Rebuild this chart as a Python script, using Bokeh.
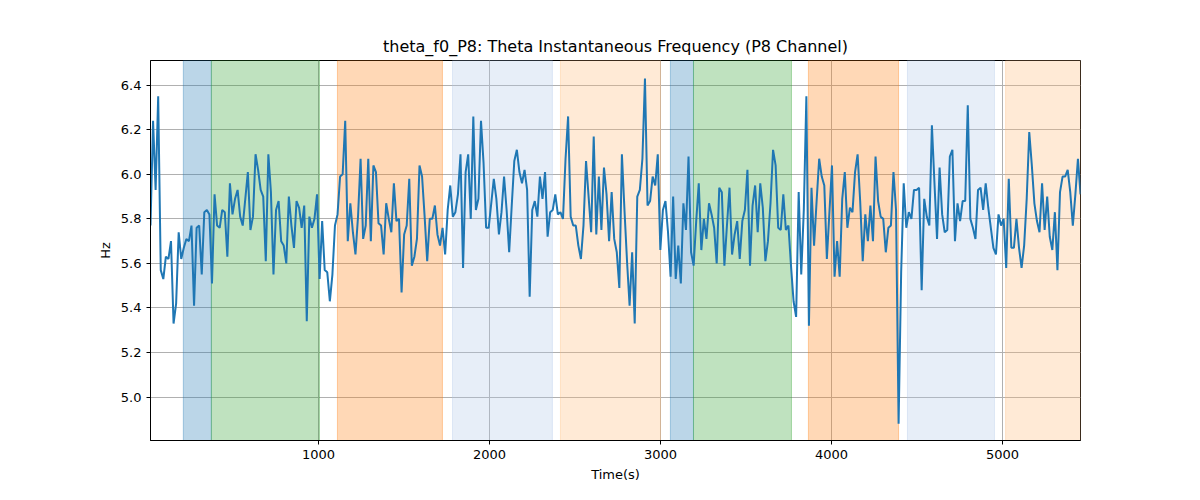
import numpy as np
from bokeh.plotting import figure
from bokeh.models import BoxAnnotation, FixedTicker, NumeralTickFormatter
from bokeh.embed import file_html
from bokeh.resources import INLINE

seg1 = [5.77,6.24,5.93,6.35,5.57,5.53,5.63,5.62,5.70,5.33,5.42,5.74,5.62,5.67,5.71,5.70,5.77,5.41,5.76,5.77,
        5.55,5.83,5.84,5.82,5.51,5.91,5.77,5.76,5.84,5.83,5.63,5.96,5.82,5.89,5.93,5.81,5.77,5.89,6.01,5.75,
        5.81,6.09,6.02,5.93,5.90,5.61,6.09,5.92,5.55,5.84,5.88,5.70,5.68,5.60,5.90,5.77,5.67,5.88,5.85,5.76,
        5.86,5.34,5.81,5.76,5.80,5.91,5.53,5.79,5.57,5.56,5.43,5.55,5.77,5.82,5.99,6.00,6.24,5.70,5.87,5.74,
        5.64,5.81,6.07,5.71,5.77,6.07,5.70,6.04,6.01,5.78,5.77,5.64,5.87]
seg2 = [5.80,5.74,5.96,5.79,5.80,5.47,5.73,5.77,5.98,5.59,5.63,5.71,6.04,5.99,5.81,5.61,5.80,5.80,5.86,5.73,
        5.68,5.76,5.64,5.84,5.95,5.81,5.83,5.91,6.09,5.58,6.01,6.09,5.80,6.26,5.84,5.89,6.24,6.05,5.76,5.76,
        5.87,5.98,5.89,5.73,5.83,5.99,5.84,5.65,5.86,6.06,6.11,6.01,5.96,6.02,5.93,5.45,5.84,5.88,5.81,5.99,
        5.89,6.01,5.72,5.83,5.84,5.91,5.82,5.83,5.80,6.07,6.26,5.81,5.77,5.77,5.68,5.62,5.77,6.06,5.90,5.74,
        6.17,5.73,5.99,5.75,6.03,5.91,5.70,5.92,5.71,5.65,5.49]
seg3 = [6.09,5.84,5.61,5.41,5.65,5.33,5.90,5.93,6.07,6.43,5.86,5.88,5.99,5.95,6.09,5.66,5.84,5.88,5.74,5.54,
        5.90,5.53,5.68,5.51,5.87,5.75,6.08,5.65,5.59,5.79,5.96,5.66,5.80,5.71,5.87,5.82,5.76,5.60,5.94,5.92,
        5.59,5.77,5.94,5.64,5.73,5.79,5.62,5.79,5.84,6.02,5.59,5.86,5.95,5.74,5.96,5.85,5.61,5.70,5.87,6.11,
        6.04,5.76,5.75,5.91,5.75,5.77,5.59,5.43,5.36,5.92,5.55,5.84,6.35,5.32,5.94,5.68,5.88,6.07,5.99,5.95,
        5.62,5.83,6.04,5.54,5.70,5.54,5.89,6.01,5.76,5.85,5.83,6.01]
seg4 = [6.09,5.88,5.61,5.82,5.70,5.86,5.70,6.08,5.88,5.81,5.80,5.65,5.76,5.77,6.01,5.84,4.88,5.56,5.96,5.76,
        5.83,5.80,5.93,5.93,5.94,5.48,5.89,5.81,5.77,6.22,5.96,5.71,6.03,5.82,5.74,5.75,6.08,6.11,5.70,5.87,
        5.79,5.88,5.88,6.31,5.80,5.76,5.71,5.93,5.94,5.84,5.96,5.85,5.76,5.67,5.64,5.82,5.77,5.80,5.58,5.98,
        5.67,5.67,5.80,5.67,5.58,5.68,5.89,6.19,6.04,5.87,5.79,5.74,5.96,5.75,5.90,5.72,5.66,5.83,5.57,5.92,
        5.99,5.99,6.02,5.92,5.77,5.91,6.07,5.91]
hz = seg1 + seg2 + seg3 + seg4
t_start, t_end = 18, 5456
time = np.linspace(t_start, t_end, len(hz))

spans = [(210, 374, "#1f77b4", 0.3), (374, 1006, "#2ca02c", 0.3), (1111, 1725, "#ff7f0e", 0.3),
         (1784, 2368, "#aec7e8", 0.3), (2415, 3000, "#ffbb78", 0.3), (3058, 3193, "#1f77b4", 0.3),
         (3193, 3766, "#2ca02c", 0.3), (3865, 4392, "#ff7f0e", 0.3), (4444, 4953, "#aec7e8", 0.3),
         (5018, 5456, "#ffbb78", 0.3)]

p = figure(width=1184, height=484, output_backend="svg", toolbar_location=None,
           x_range=(18, 5456), y_range=(4.805, 6.511),
           title="theta_f0_P8: Theta Instantaneous Frequency (P8 Channel)",
           x_axis_label="Time(s)", y_axis_label="Hz",
           min_border_left=150, min_border_right=104, min_border_top=60, min_border_bottom=28)
p.title.align = "center"
p.title.text_font = "DejaVu Sans"
p.title.text_font_size = "16px"
p.title.text_font_style = "normal"
p.title.text_color = "black"
for s0, s1, c, a in spans:
    p.add_layout(BoxAnnotation(left=s0, right=s1, fill_color=c, fill_alpha=a, line_color=c, line_alpha=0.35, level="underlay"))
p.line(time, hz, line_color="#1f77b4", line_width=2)
p.xaxis.ticker = FixedTicker(ticks=[1000, 2000, 3000, 4000, 5000])
p.yaxis.ticker = FixedTicker(ticks=[5.0, 5.2, 5.4, 5.6, 5.8, 6.0, 6.2, 6.4])
p.yaxis.formatter = NumeralTickFormatter(format="0.0")
for ax in (p.xaxis, p.yaxis):
    ax.axis_label_text_font = "DejaVu Sans"
    ax.axis_label_text_font_style = "normal"
    ax.axis_label_text_font_size = "13px"
    ax.axis_label_text_color = "black"
    ax.major_label_text_font = "DejaVu Sans"
    ax.major_label_text_font_size = "13px"
    ax.major_label_text_color = "black"
    ax.minor_tick_line_color = None
    ax.major_tick_out = 4
    ax.major_tick_in = 0
    ax.axis_line_color = "black"
p.grid.grid_line_color = "#b0b0b0"
p.grid.grid_line_width = 1
p.grid.level = "underlay"
p.outline_line_color = "black"
p.background_fill_color = "white"

open("out.html", "w").write(file_html(p, INLINE))
